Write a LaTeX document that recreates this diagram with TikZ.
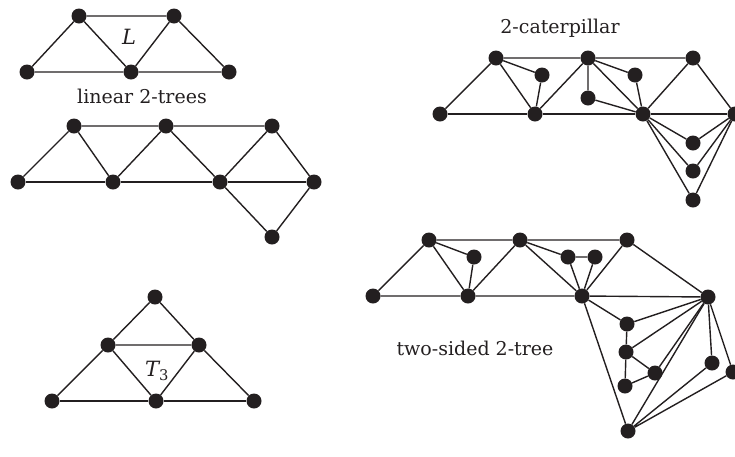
\documentclass[tikz,border=0pt]{standalone}
\usepackage{fontspec}
\setmainfont{DejaVu Serif}
\usepackage{tikz}

\definecolor{ink}{RGB}{35,31,32}

\begin{document}
\begin{tikzpicture}[
    x=1pt, y=-1pt,
    vtx/.style={circle, fill=ink, inner sep=0pt, minimum size=15pt},
    edge/.style={draw=ink, line width=1.4pt},
    caption/.style={text=ink, font=\fontsize{19}{22}\selectfont, inner sep=0pt},
    gname/.style={text=ink, font=\fontsize{21}{24}\selectfont\itshape, inner sep=0pt}
]
\useasboundingbox (0,0) rectangle (735,456);

% the graph L
\node[vtx] (l1) at (27,72) {};
\node[vtx] (l2) at (79,16) {};
\node[vtx] (l3) at (131,72) {};
\node[vtx] (l4) at (174,16) {};
\node[vtx] (l5) at (229,72) {};
\node[gname] (lname) at (129,37) {L};
\draw[edge] (l1) -- (l2) -- (l3) -- (l1);
\draw[edge] (l2) -- (l4) -- (l3) -- (l5) -- (l4);
\node[caption] (lintxt) at (142,96) {linear 2-trees};

% a linear 2-tree
\node[vtx] (p1) at (18,182) {};
\node[vtx] (p2) at (74,126) {};
\node[vtx] (p3) at (113,182) {};
\node[vtx] (p4) at (166,126) {};
\node[vtx] (p5) at (220,182) {};
\node[vtx] (p6) at (272,126) {};
\node[vtx] (p7) at (314,182) {};
\node[vtx] (p8) at (272,237) {};
\draw[edge] (p1) -- (p2) -- (p4) -- (p6);
\draw[edge] (p1) -- (p3) -- (p5) -- (p7);
\draw[edge] (p2) -- (p3) -- (p4) -- (p5) -- (p6) -- (p7) -- (p8) -- (p5);

% the graph T_3
\node[vtx] (t1) at (155,297) {};
\node[vtx] (t2) at (108,345) {};
\node[vtx] (t3) at (199,345) {};
\node[vtx] (t4) at (52,401) {};
\node[vtx] (t5) at (156,401) {};
\node[vtx] (t6) at (254,401) {};
\node[gname] (tname) at (157,371) {T\textsubscript{\upshape 3}};
\draw[edge] (t1) -- (t2) -- (t3) -- (t1);
\draw[edge] (t4) -- (t2) -- (t5) -- (t3) -- (t6);
\draw[edge] (t4) -- (t5) -- (t6);

% a 2-caterpillar
\node[caption] (cattxt) at (560,28) {2-caterpillar};
\node[vtx] (c1) at (440,114) {};
\node[vtx] (c2) at (496,58) {};
\node[vtx] (c3) at (542,75) {};
\node[vtx] (c4) at (535,114) {};
\node[vtx] (c5) at (588,58) {};
\node[vtx] (c6) at (588,98) {};
\node[vtx] (c7) at (635,75) {};
\node[vtx] (c8) at (643,114) {};
\node[vtx] (c9) at (693,58) {};
\node[vtx] (c10) at (735,114) {};
\node[vtx] (c11) at (693,143) {};
\node[vtx] (c12) at (693,171) {};
\node[vtx] (c13) at (693,200) {};
\draw[edge] (c1) -- (c2) -- (c5) -- (c9);
\draw[edge] (c1) -- (c4) -- (c8) -- (c10);
\draw[edge] (c2) -- (c3) -- (c4) -- (c2);
\draw[edge] (c4) -- (c5) -- (c6) -- (c8) -- (c5) -- (c7) -- (c8);
\draw[edge] (c8) -- (c9) -- (c10);
\draw[edge] (c8) -- (c11) -- (c10);
\draw[edge] (c8) -- (c12) -- (c10);
\draw[edge] (c8) -- (c13) -- (c10);

% a two-sided 2-tree
\node[caption] (twotxt) at (475,348) {two-sided 2-tree};
\node[vtx] (d1) at (373,296) {};
\node[vtx] (d2) at (429,240) {};
\node[vtx] (d3) at (474,257) {};
\node[vtx] (d4) at (468,296) {};
\node[vtx] (d5) at (520,240) {};
\node[vtx] (d6) at (568,257) {};
\node[vtx] (d7) at (595,257) {};
\node[vtx] (d8) at (582,296) {};
\node[vtx] (d9) at (627,240) {};
\node[vtx] (d10) at (708,297) {};
\node[vtx] (d11) at (627,324) {};
\node[vtx] (d12) at (626,352) {};
\node[vtx] (d13) at (655,373) {};
\node[vtx] (d14) at (625,386) {};
\node[vtx] (d15) at (712,363) {};
\node[vtx] (d16) at (733,372) {};
\node[vtx] (d17) at (628,431) {};
\draw[edge] (d1) -- (d2) -- (d5) -- (d9);
\draw[edge] (d1) -- (d4) -- (d8) -- (d10);
\draw[edge] (d2) -- (d3) -- (d4) -- (d2);
\draw[edge] (d4) -- (d5) -- (d6) -- (d7) -- (d8) -- (d6);
\draw[edge] (d5) -- (d8) -- (d9) -- (d10);
\draw[edge] (d8) -- (d11) -- (d10) -- (d12) -- (d11);
\draw[edge] (d12) -- (d13) -- (d10);
\draw[edge] (d12) -- (d14) -- (d13);
\draw[edge] (d8) -- (d17) -- (d10);
\draw[edge] (d10) -- (d15) -- (d17) -- (d16) -- (d10);
\end{tikzpicture}
\end{document}
